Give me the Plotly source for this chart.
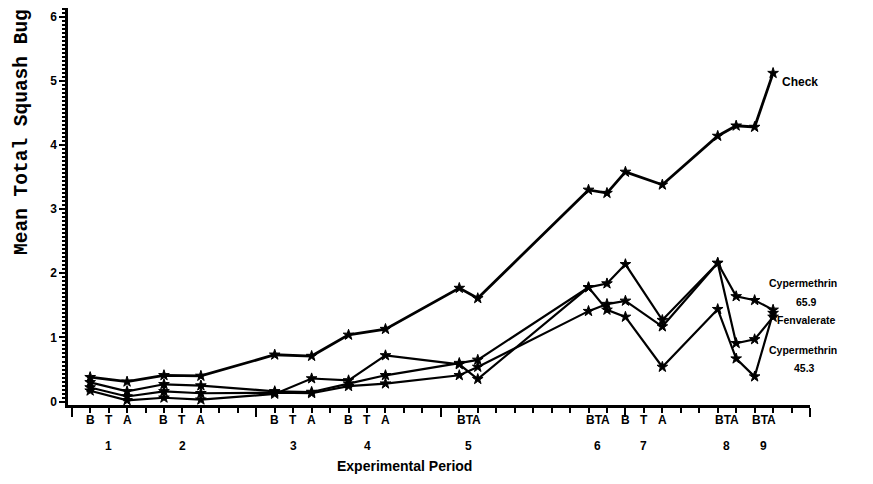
import plotly.graph_objects as go

# ---- data ----
days = [1, 3, 5, 7, 11, 13, 15, 17, 21, 22, 28, 29, 30, 32, 35, 36, 37, 38]
check = [0.38, 0.31, 0.41, 0.40, 0.73, 0.71, 1.04, 1.13, 1.77, 1.61, 3.30, 3.25, 3.58, 3.38, 4.14, 4.30, 4.28, 5.12]
cyper_659 = [0.30, 0.16, 0.27, 0.25, 0.16, 0.15, 0.28, 0.41, 0.60, 0.65, 1.78, 1.84, 2.14, 1.27, 2.16, 1.64, 1.58, 1.43]
fenvalerate = [0.22, 0.08, 0.16, 0.13, 0.14, 0.13, 0.24, 0.28, 0.41, 0.54, 1.41, 1.52, 1.57, 1.17, 2.16, 0.91, 0.97, 1.32]
cyper_453 = [0.17, 0.02, 0.06, 0.03, 0.12, 0.36, 0.33, 0.72, 0.58, 0.35, 1.78, 1.43, 1.32, 0.54, 1.44, 0.67, 0.39, 1.38]

period_names = ["1", "2", "3", "4", "5", "6", "7", "8", "9"]
period_b_day = [1, 5, 11, 15, 21, 28, 30, 35, 37]
period_a_day = [3, 7, 13, 17, 22, 29, 32, 36, 38]

y_ticks = [0, 1, 2, 3, 4, 5, 6]
y_title = "Mean Total Squash Bug"
x_title = "Experimental Period"

FONT_B = "Liberation Sans"

fig = go.Figure()
series = [
    ("Check", check, 2.8),
    ("Cypermethrin 65.9", cyper_659, 2.2),
    ("Fenvalerate", fenvalerate, 2.2),
    ("Cypermethrin 45.3", cyper_453, 2.2),
]
for name, vals, w in series:
    fig.add_trace(go.Scatter(
        x=days, y=vals, mode="lines+markers", name=name,
        line=dict(color="black", width=w),
        marker=dict(symbol="star", size=8, color="black", line=dict(color="black", width=1)),
        showlegend=False,
    ))

ann = []
lbl_font = dict(family=FONT_B, size=12, color="black", weight="bold")
# B T A labels and period numbers below the axis
for name, b, a in zip(period_names, period_b_day, period_a_day):
    mid = (a + b) / 2
    if a - b > 1:
        for letter, xv in zip(["B", "T", "A"], [b, mid, a]):
            ann.append(dict(x=xv, y=-0.038, xref="x", yref="paper", text=letter,
                            showarrow=False, yanchor="middle", font=lbl_font))
    else:
        ann.append(dict(x=mid, y=-0.038, xref="x", yref="paper", text="BTA",
                        showarrow=False, yanchor="middle", font=lbl_font))
    ann.append(dict(x=mid, y=-0.103, xref="x", yref="paper", text=name,
                    showarrow=False, yanchor="middle", font=lbl_font))

# series labels on the right
lab_font = dict(family=FONT_B, size=10.5, color="black", weight="bold")
ann.append(dict(x=days[-1], y=check[-1], xref="x", yref="y", text="Check", showarrow=False,
                xanchor="left", xshift=7, yshift=-9,
                font=dict(family=FONT_B, size=12, color="black", weight="bold")))
ann.append(dict(x=39.6, y=1.85, xref="x", yref="y", text="Cypermethrin", showarrow=False, font=lab_font))
ann.append(dict(x=39.8, y=1.55, xref="x", yref="y", text="65.9", showarrow=False, font=lab_font))
ann.append(dict(x=39.8, y=1.27, xref="x", yref="y", text="Fenvalerate", showarrow=False, font=lab_font))
ann.append(dict(x=39.6, y=0.80, xref="x", yref="y", text="Cypermethrin", showarrow=False, font=lab_font))
ann.append(dict(x=39.7, y=0.52, xref="x", yref="y", text="45.3", showarrow=False, font=lab_font))

# axis titles
ann.append(dict(x=-0.062, y=0.373, xref="paper", yref="paper", text=y_title, showarrow=False,
                textangle=-90, xanchor="center", yanchor="bottom",
                font=dict(family="Liberation Mono", size=19.5, color="black", weight="bold")))
ann.append(dict(x=0.453, y=-0.154, xref="paper", yref="paper", text=x_title, showarrow=False,
                yanchor="middle",
                font=dict(family=FONT_B, size=14, color="black", weight="bold")))

fig.update_layout(
    width=873, height=484,
    margin=dict(l=68, r=63, t=8, b=79),
    paper_bgcolor="white", plot_bgcolor="white",
    annotations=ann,
    xaxis=dict(range=[-0.2, 40], showgrid=False, zeroline=False,
               showline=True, linecolor="black", linewidth=3,
               ticks="outside", tickmode="linear", tick0=0, dtick=10,
               ticklen=9, tickwidth=2, tickcolor="black", showticklabels=False,
               minor=dict(dtick=1, ticklen=5, tickwidth=2, tickcolor="black", ticks="outside")),
    yaxis=dict(range=[-0.053, 6.135], showgrid=False, zeroline=False,
               showline=True, linecolor="black", linewidth=2.5,
               ticks="outside", tickmode="array", tickvals=y_ticks,
               ticktext=[str(v) for v in y_ticks],
               ticklen=6, tickwidth=2, tickcolor="black",
               tickfont=dict(family=FONT_B, size=12, color="black", weight="bold"),
               minor=dict(dtick=0.0625, tick0=0, ticklen=3, tickwidth=1.5, tickcolor="black", ticks="outside")),
)

fig.write_html("out.html", config={"displayModeBar": False},
               post_script="document.body.style.margin='0px';")
